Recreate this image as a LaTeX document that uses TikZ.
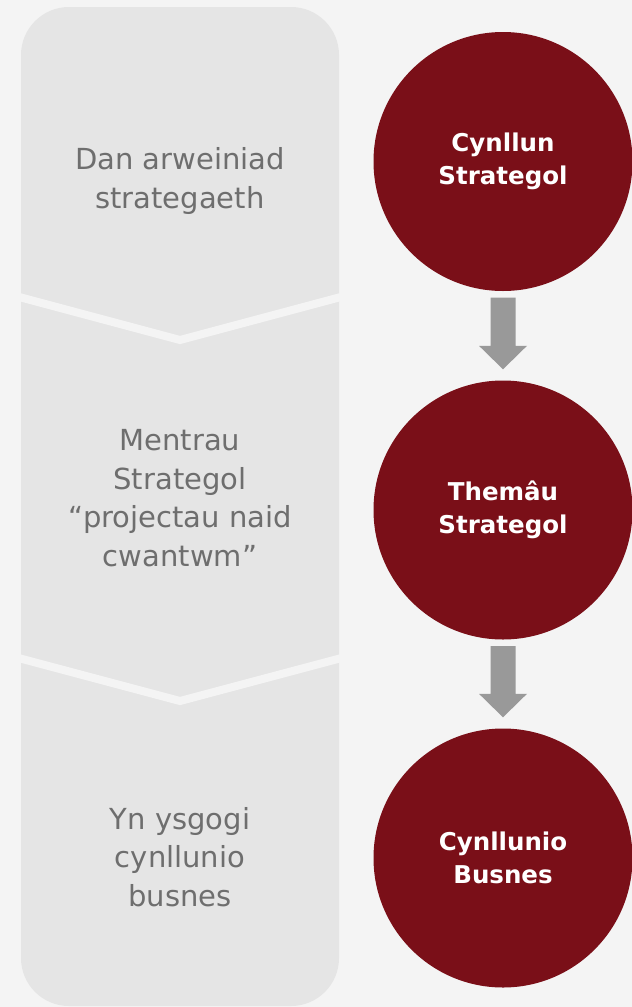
\documentclass[tikz,border=0pt]{standalone}
\usepackage{fontspec}
\setmainfont{DejaVu Sans}
\usetikzlibrary{calc}
\definecolor{bg}{HTML}{F4F4F4}
\definecolor{panel}{HTML}{E5E5E5}
\definecolor{txtgray}{HTML}{6E6E6E}
\definecolor{wine}{HTML}{7A0F18}
\definecolor{arrowgray}{HTML}{999999}
\tikzset{
  sidetext/.style={align=center, text=txtgray, inner sep=0pt, anchor=base,
    font=\fontsize{29}{38.6}\selectfont},
  stage/.style={circle, fill=wine, minimum size=259pt, inner sep=0pt,
    align=center, text=white, font=\fontsize{24.5}{33}\selectfont\bfseries},
  divider/.style={draw=bg, line width=8pt, miter limit=10},
  blockarrow/.style={fill=arrowgray}
}
\begin{document}
\begin{tikzpicture}[x=1pt,y=-1pt]
\fill[bg] (0,0) rectangle (632,1007);
\useasboundingbox (0,0) rectangle (632,1007);
% panel
\fill[panel, rounded corners=48pt] (21,7) rectangle (339,1006);
\draw[divider] (5,293.2) -- (180,340) -- (355,293.2);
\draw[divider] (5,654.4) -- (180,701) -- (355,654.4);
% side texts (anchor = baseline of last line)
\node[sidetext] (t1) at (180,208.5) {Dan arweiniad\\strategaeth};
\node[sidetext] (t2) at (180,566.5) {Mentrau\\Strategol\\“projectau naid\\cwantwm”};
\node[sidetext] (t3) at (180,906.5) {Yn ysgogi\\cynllunio\\busnes};
% circles
\node[stage] (c1) at (503,161.5) {Cynllun\\Strategol};
\node[stage] (c2) at (503,510) {Themâu\\Strategol};
\node[stage] (c3) at (503,858) {Cynllunio\\Busnes};
% arrows
\foreach \a/\b in {c1/c2, c2/c3} {
  \fill[blockarrow] ($(\a.south)+(-12.5,6.5)$) -- ($(\a.south)+(12.5,6.5)$)
    -- ($(\b.north)+(12.5,-34.5)$) -- ($(\b.north)+(24,-34.5)$)
    -- ($(\b.north)+(0,-11)$) -- ($(\b.north)+(-24,-34.5)$)
    -- ($(\b.north)+(-12.5,-34.5)$) -- cycle;
}
\end{tikzpicture}
\end{document}
